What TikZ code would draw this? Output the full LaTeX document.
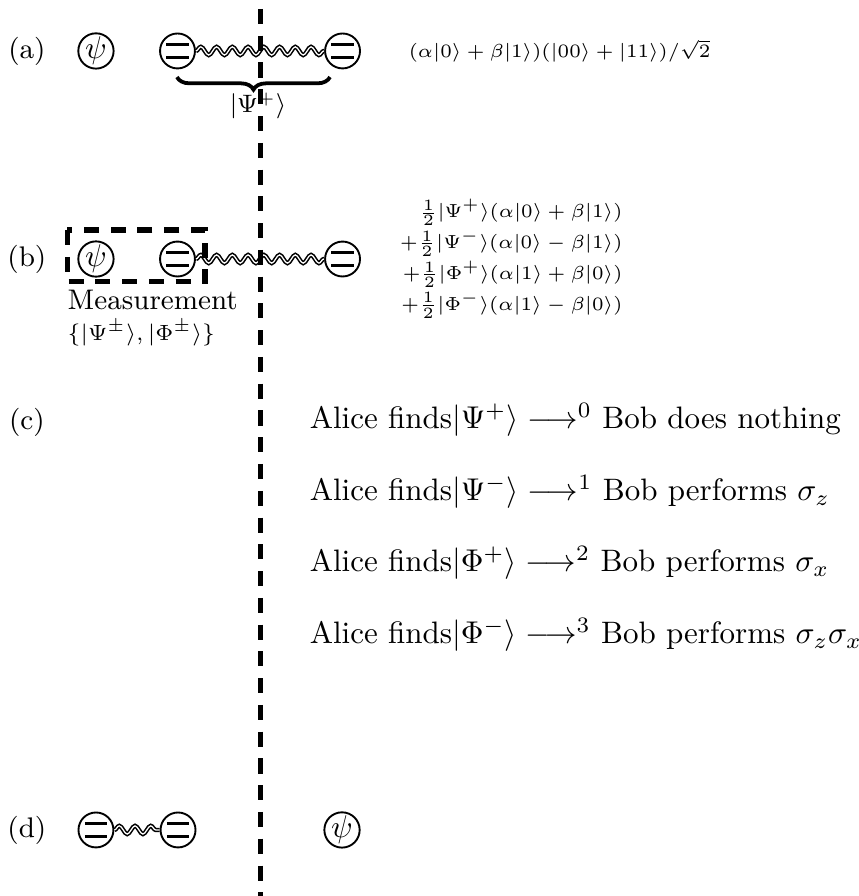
\documentclass[tikz,border=0pt]{standalone}
\usepackage{amsmath}
\usetikzlibrary{decorations.pathmorphing,decorations.pathreplacing}
\begin{document}
\begin{tikzpicture}
\tikzset{caseno/.style={font=\small},
  qubit/.style={circle, draw, semithick, minimum size=0.39cm, inner sep=0pt},
  atom/.style={qubit, path picture={
    \draw[line width=1.2pt] ([shift={(-0.125,0.072)}]path picture bounding box.center) -- ++(0.25,0);
    \draw[line width=1.2pt] ([shift={(-0.125,-0.072)}]path picture bounding box.center) -- ++(0.25,0);}},
  entangle/.style={decorate, decoration={snake, amplitude=1.3pt, segment length=5pt}, line width=0.5pt, double, double distance=0.4pt},
  divide/.style={line width=1.6pt, dash pattern=on 4.8pt off 3.7pt},
  eq/.style={font=\fontsize{6.2}{9.8}\selectfont},
  alice/.style={anchor=west, inner sep=0pt, font=\fontsize{9.85}{12}\selectfont}}

\useasboundingbox (0,0) rectangle (9.576,10);

\coordinate (top) at (2.902,9.9);
\coordinate (bottom) at (2.902,0);

\node[caseno] (a) at (0.30,9.431) {(a)};
\node[qubit] (psia) at (1.071,9.431) {$\psi$};
\node[atom] (a1) at (1.981,9.431) {};
\node[atom] (a2) at (3.823,9.431) {};
\draw[entangle] (a1) -- (a2);
\draw[decorate, decoration={brace, mirror, amplitude=4pt}, very thick] (1.975,9.14) -- (3.683,9.14);
\node[font=\fontsize{7.8}{9}\selectfont] (bell) at (2.879,8.817) {$|\Psi^+\rangle$};
\node[eq] (sa) at (6.245,9.431) {$(\alpha|0\rangle + \beta|1\rangle)(|00\rangle + |11\rangle)/\sqrt{2}$};

\node[caseno] (b) at (0.30,7.109) {(b)};
\node[qubit] (psib) at (1.071,7.109) {$\psi$};
\node[atom] (b1) at (1.981,7.109) {};
\node[atom] (b2) at (3.823,7.109) {};
\draw[entangle] (b1) -- (b2);
\draw[divide] (0.748,7.433) rectangle (2.288,6.853);
\node[font=\small, anchor=west, inner sep=0pt] (meas) at (0.748,6.652) {Measurement};
\node[font=\fontsize{6.8}{8}\selectfont, anchor=west, inner sep=0pt] (basis) at (0.748,6.283) {$\{|\Psi^\pm\rangle, |\Phi^\pm\rangle\}$};
\node[eq, anchor=east, align=right, inner sep=0pt] (sb) at (6.953,7.11) {$\frac{1}{2}|\Psi^+\rangle(\alpha|0\rangle + \beta|1\rangle)$\\
  $+\frac{1}{2}|\Psi^-\rangle(\alpha|0\rangle - \beta|1\rangle)$\\
  $+\frac{1}{2}|\Phi^+\rangle(\alpha|1\rangle + \beta|0\rangle)$\\
  $+\frac{1}{2}|\Phi^-\rangle(\alpha|1\rangle - \beta|0\rangle)$};

\node[caseno] (c) at (0.30,5.29) {(c)};
\node[alice] (c0) at (3.45,5.312) {Alice finds$|\Psi^+\rangle \longrightarrow^0$ Bob does nothing};
\node[alice] (c1) at (3.45,4.509) {Alice finds$|\Psi^-\rangle \longrightarrow^1$ Bob performs $\sigma_z$};
\node[alice] (c2) at (3.45,3.717) {Alice finds$|\Phi^+\rangle \longrightarrow^2$ Bob performs $\sigma_x$};
\node[alice] (c3) at (3.45,2.913) {Alice finds$|\Phi^-\rangle \longrightarrow^3$ Bob performs $\sigma_z\sigma_x$};

\node[caseno] (d) at (0.30,0.737) {(d)};
\node[atom] (d1) at (1.071,0.737) {};
\node[atom] (d2) at (1.987,0.737) {};
\draw[entangle] (d1) -- (d2);
\node[qubit] (psid) at (3.817,0.737) {$\psi$};

\draw[divide] (top) -- (bottom);
\end{tikzpicture}
\end{document}
